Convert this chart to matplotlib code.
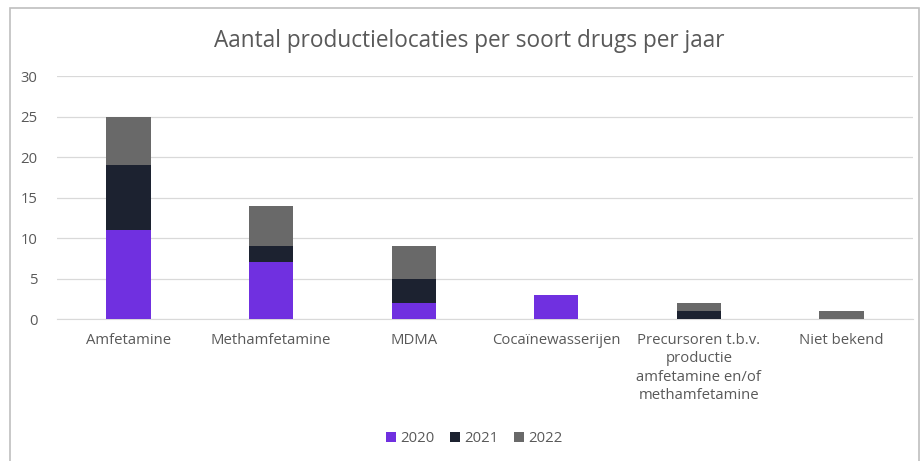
import matplotlib
matplotlib.use("Agg")
import matplotlib.pyplot as plt
from matplotlib.patches import Rectangle
import numpy as np

categories = ["Amfetamine", "Methamfetamine", "MDMA", "Cocaïnewasserijen",
              "Precursoren t.b.v.\nproductie\namfetamine en/of\nmethamfetamine", "Niet bekend"]
years = ["2020", "2021", "2022"]
v2020 = [11, 7, 2, 3, 0, 0]
v2021 = [8, 2, 3, 0, 1, 0]
v2022 = [6, 5, 4, 0, 1, 1]
colors = ["#7030E0", "#1C2230", "#696969"]

plt.rcParams['font.family'] = ['Open Sans', 'DejaVu Sans']
txt = "#595959"

fig = plt.figure(figsize=(9.21, 4.61), dpi=100)
ax = fig.add_axes([0.062, 0.308, 0.929, 0.527])

x = np.arange(len(categories))
bottom = np.zeros(len(categories))
for vals, c, lab in zip([v2020, v2021, v2022], colors, years):
    ax.bar(x, vals, 0.31, bottom=bottom, color=c, label=lab, zorder=3)
    bottom += np.array(vals)

ax.set_xlim(-0.5, len(categories) - 0.5)
ax.set_ylim(0, 30)
ax.set_yticks(range(0, 31, 5))
ax.yaxis.grid(True, color="#D9D9D9", linewidth=0.9, zorder=0)
for s in ax.spines.values():
    s.set_visible(False)
ax.spines['bottom'].set_visible(True)
ax.spines['bottom'].set_color("#D9D9D9")
ax.tick_params(axis='both', length=0, colors=txt, labelsize=10.7)
ax.tick_params(axis='x', pad=10)
ax.tick_params(axis='y', pad=14)
ax.set_xticks(x)
ax.set_xticklabels(categories, linespacing=1.3)

fig.text(0.51, 0.912, "Aantal productielocaties per soort drugs per jaar",
         ha="center", va="center", fontsize=16.3, color=txt)

leg = fig.legend(loc="center", bbox_to_anchor=(0.515, 0.048), ncol=3, frameon=False,
                 fontsize=10.7, handlelength=0.7, handleheight=0.7, columnspacing=1.0,
                 handletextpad=0.3)
for t in leg.get_texts():
    t.set_color(txt)

fig.patches.append(Rectangle((10 / 921, -0.01), 909 / 921, 1 - 8 / 461 + 0.01,
                             transform=fig.transFigure, fill=False,
                             edgecolor="#BFBFBF", linewidth=1.2))

fig.savefig("out.png", dpi=100)
